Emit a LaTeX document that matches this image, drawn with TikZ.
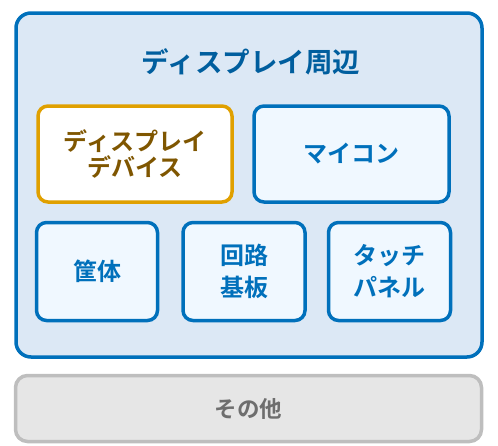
\documentclass[tikz,border=0pt]{standalone}
\usepackage{fontspec}
\setmainfont{Noto Sans CJK JP}[BoldFont={Noto Sans CJK JP Bold}]
\usepackage{tikz}
\usepackage{xcolor}

\definecolor{bluefg}{HTML}{0070BB}
\definecolor{titlefg}{HTML}{005E9E}
\definecolor{bluebg}{HTML}{DCE8F5}
\definecolor{innerbg}{HTML}{F0F8FF}
\definecolor{orangefg}{HTML}{E0A000}
\definecolor{browntext}{HTML}{7F5600}
\definecolor{graybg}{HTML}{E6E6E6}
\definecolor{grayfg}{HTML}{BEBEBE}
\definecolor{graytext}{HTML}{6E6E6E}

\tikzset{
  partbox/.style={draw=bluefg, fill=innerbg, line width=3.5pt, rounded corners=10pt,
    text=bluefg, font=\bfseries\fontsize{24}{32}\selectfont, align=center, inner sep=0pt},
  devbox/.style={partbox, draw=orangefg, fill=white, text=browntext,
    font=\bfseries\fontsize{24}{26}\selectfont}
}

\begin{document}
\begin{tikzpicture}[x=1pt, y=-1pt]
    \useasboundingbox (0,0) rectangle (498,445);

    \node[draw=bluefg, fill=bluebg, line width=3.5pt, rounded corners=15pt,
      minimum width=466pt, minimum height=344pt] at (249,185) (outer) {};
    \node[text=titlefg, font=\bfseries\fontsize{27.5}{30}\selectfont] at (251,62) (title) {ディスプレイ周辺};

    \node[devbox, minimum width=194pt, minimum height=96pt] at (135,154) (disp) {ディスプレイ\\デバイス};
    \node[partbox, minimum width=195pt, minimum height=96pt] at (351.5,154) (mcu) {マイコン};

    \node[partbox, minimum width=121pt, minimum height=98pt] at (97,271.5) (case) {筐体};
    \node[partbox, minimum width=122pt, minimum height=98pt] at (244,271.5) (pcb) {回路\\基板};
    \node[partbox, minimum width=122pt, minimum height=98pt] at (389.5,271.5) (touch) {タッチ\\パネル};

    \node[draw=grayfg, fill=graybg, line width=3.5pt, rounded corners=12pt, text=graytext,
      font=\bfseries\fontsize{22.5}{24}\selectfont,
      minimum width=466pt, minimum height=66pt] at (248.5,408.5) (other) {その他};
  \end{tikzpicture}
\end{document}
